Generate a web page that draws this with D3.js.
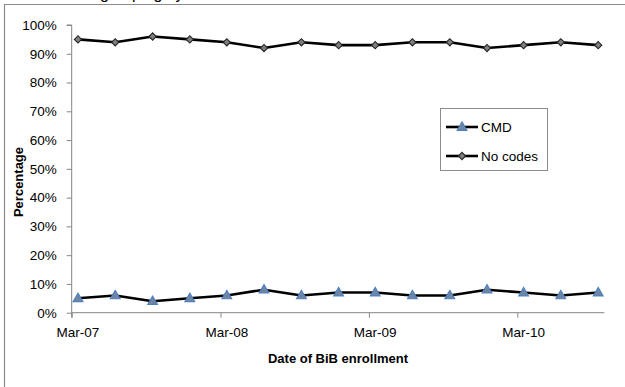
<!DOCTYPE html>
<html>
<head>
<meta charset="utf-8">
<script src="https://cdn.jsdelivr.net/npm/d3@7"></script>
<style>
  html, body { margin: 0; padding: 0; background: #fff; }
  svg { display: block; }
  text { font-family: "Liberation Sans", Arial, sans-serif; }
</style>
</head>
<body>
<svg id="chart" width="625" height="387"></svg>
<script>
// ---- data ----
const months = ["2007-03","2007-06","2007-09","2007-12","2008-03","2008-06","2008-09","2008-12",
                "2009-03","2009-06","2009-09","2009-12","2010-03","2010-06","2010-09"];
const cmdValues = [5,6,4,5,6,8,6,7,7,6,6,8,7,6,7];
const noCodesValues = [95,94,96,95,94,92,94,93,93,94,94,92,93,94,93];
const yTicks = [0,10,20,30,40,50,60,70,80,90,100];
const xTickDates = ["2007-03","2008-03","2009-03","2010-03"];
const xTickLabels = ["Mar-07","Mar-08","Mar-09","Mar-10"];
const seriesNames = ["CMD","No codes"];

const parse = d3.timeParse("%Y-%m");
const svg = d3.select("#chart");

const pLeft = 71.7, pRight = 604.3, pTop = 25, pBottom = 312.7;
const x = d3.scaleTime().domain([parse("2007-03"), parse("2010-10")]).range([pLeft, pRight]);
const y = d3.scaleLinear().domain([0, 100]).range([pBottom, pTop]);
const midMonth = s => { const d = parse(s); return (x(d) + x(d3.timeMonth.offset(d,1))) / 2; };

const axisColor = "#868686";

// outer frame
svg.append("path").attr("d", "M4.5,700 V4.5 H700").attr("fill","none").attr("stroke","#8c8c8c").attr("stroke-width",1.2);
// cut-off caption at top (only descenders visible, as in the source)
svg.append("text").attr("x", 100).attr("y", -1).attr("font-family","'Liberation Serif', serif")
  .attr("font-size", 16).attr("fill","#000").text("grouping by");

// Y axis
const yAxis = svg.append("g").attr("transform", `translate(${pLeft},0)`)
  .call(d3.axisLeft(y).tickValues(yTicks).tickSize(5).tickPadding(10).tickFormat(d => d + "%"));
yAxis.select(".domain").attr("stroke", axisColor).attr("d", `M-5,${pTop}H0V${pBottom+5}`);
yAxis.selectAll(".tick line").attr("stroke", axisColor);
yAxis.selectAll(".tick text").attr("font-size", 13.5).attr("fill","#000").attr("font-family","'Liberation Sans', Arial, sans-serif");

// X axis
const xAxis = svg.append("g").attr("transform", `translate(0,${pBottom})`)
  .call(d3.axisBottom(x).tickValues(xTickDates.map(parse)).tickSize(5).tickFormat(""));
xAxis.select(".domain").attr("stroke", axisColor).attr("d", `M${pLeft},0H${pRight}`);
xAxis.selectAll(".tick line").attr("stroke", axisColor);
svg.append("g").selectAll("text").data(xTickDates).join("text")
  .attr("x", d => midMonth(d)).attr("y", pBottom + 24.5).attr("text-anchor","middle")
  .attr("font-size", 13.5).attr("fill","#000").text((d,i) => xTickLabels[i]);

// axis titles
svg.append("text").attr("transform", `translate(23,182) rotate(-90)`)
  .attr("text-anchor","middle").attr("font-weight","bold").attr("font-size", 13).text("Percentage");
svg.append("text").attr("x", (pLeft+pRight)/2).attr("y", 363).attr("text-anchor","middle")
  .attr("font-weight","bold").attr("font-size", 13).text("Date of BiB enrollment");

// lines
const line = d3.line().x(d => midMonth(d.m)).y(d => y(d.v));
const cmdData = months.map((m,i) => ({m, v: cmdValues[i]}));
const ncData = months.map((m,i) => ({m, v: noCodesValues[i]}));
svg.append("path").datum(ncData).attr("d", line).attr("fill","none").attr("stroke","#000").attr("stroke-width",2.6).attr("stroke-linejoin","round");
svg.append("path").datum(cmdData).attr("d", line).attr("fill","none").attr("stroke","#000").attr("stroke-width",2.6).attr("stroke-linejoin","round");

const diamond = d3.symbol().type(d3.symbolSquare).size(26);
const tri = d3.symbol().type(d3.symbolTriangle).size(42);
function drawDiamond(g, cx, cy) {
  g.append("path").attr("d", diamond()).attr("transform", `translate(${cx},${cy}) rotate(45)`)
    .attr("fill","#7f7f7f").attr("stroke","#262626").attr("stroke-width",1.1);
}
function drawTri(g, cx, cy) {
  g.append("path").attr("d", tri()).attr("transform", `translate(${cx},${cy+0.5})`)
    .attr("fill","#6f85a6").attr("stroke","#4f81bd").attr("stroke-width",1.1);
}
const mk = svg.append("g");
ncData.forEach(d => drawDiamond(mk, midMonth(d.m), y(d.v)));
cmdData.forEach(d => drawTri(mk, midMonth(d.m), y(d.v)));

// legend
const lg = svg.append("g");
lg.append("rect").attr("x", 440.5).attr("y", 108.5).attr("width", 107).attr("height", 62)
  .attr("fill","#fff").attr("stroke","#8c8c8c").attr("stroke-width",1);
const rows = [127, 156];
seriesNames.forEach((name, i) => {
  const cy = rows[i];
  lg.append("line").attr("x1", 446).attr("x2", 478).attr("y1", cy).attr("y2", cy)
    .attr("stroke","#000").attr("stroke-width",2.6);
  if (i === 0) drawTri(lg, 462, cy); else drawDiamond(lg, 462, cy);
  lg.append("text").attr("x", 481).attr("y", cy + 5).attr("font-size", 13.5).attr("fill","#000").text(name);
});
</script>
</body>
</html>
